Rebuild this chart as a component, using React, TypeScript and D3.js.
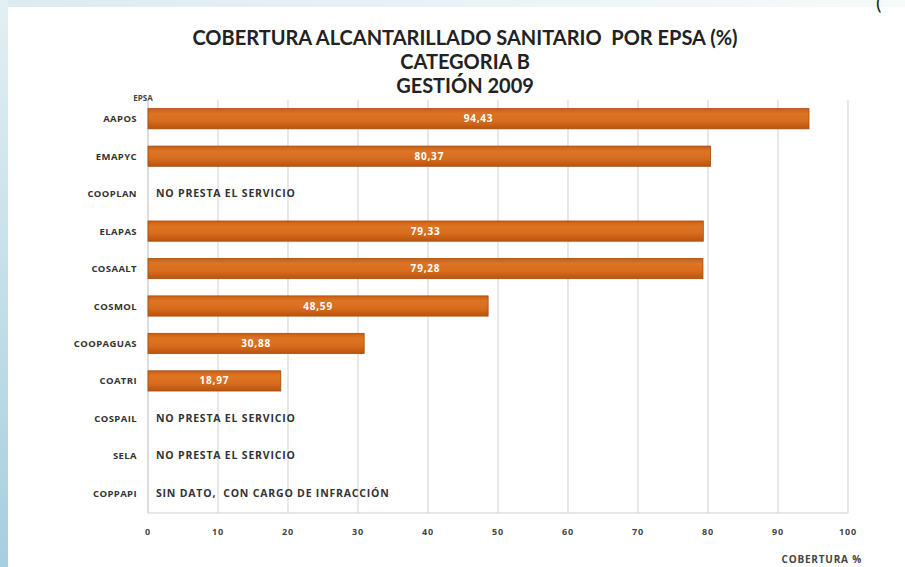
import React from "react";
import * as d3 from "d3";

const categories = ["AAPOS", "EMAPYC", "COOPLAN", "ELAPAS", "COSAALT", "COSMOL", "COOPAGUAS", "COATRI", "COSPAIL", "SELA", "COPPAPI"];
const values: (number | null)[] = [94.43, 80.37, null, 79.33, 79.28, 48.59, 30.88, 18.97, null, null, null];
const notes: (string | null)[] = [null, null, "NO PRESTA EL SERVICIO", null, null, null, null, null, "NO PRESTA EL SERVICIO", "NO PRESTA EL SERVICIO", "SIN DATO,  CON CARGO DE INFRACCIÓN"];
const xTicks = [0, 10, 20, 30, 40, 50, 60, 70, 80, 90, 100];
const titleLines = ["COBERTURA ALCANTARILLADO SANITARIO  POR EPSA (%)", "CATEGORIA B", "GESTIÓN 2009"];

const W = 905, H = 567;
const TFONT = "Lato, 'Open Sans', sans-serif";
const FONT = "'Open Sans', Lato, sans-serif";

export default function App() {
  const x = d3.scaleLinear().domain([0, 100]).range([148, 848]);
  const y = d3.scaleBand().domain(categories).range([100, 512]).paddingInner(0.46).paddingOuter(0.23);
  const fmt = (v: number) => v.toFixed(2).replace(".", ",");
  return (
    <svg width={W} height={H} style={{ position: "absolute", left: 0, top: 0, background: "#fff" }} xmlns="http://www.w3.org/2000/svg">
      <defs>
        <linearGradient id="side" x1="0" y1="0" x2="0" y2="1">
          <stop offset="0" stopColor="#e3eff4" />
          <stop offset="1" stopColor="#a6cfdf" />
        </linearGradient>
        <linearGradient id="top" x1="0" y1="0" x2="1" y2="0">
          <stop offset="0" stopColor="#dcebf1" />
          <stop offset="1" stopColor="#f7fafb" />
        </linearGradient>
        <linearGradient id="bar" x1="0" y1="0" x2="0" y2="1">
          <stop offset="0" stopColor="#c85e14" />
          <stop offset="0.25" stopColor="#dd7424" />
          <stop offset="0.6" stopColor="#d86d1e" />
          <stop offset="1" stopColor="#b9540e" />
        </linearGradient>
      </defs>
      <rect x={0} y={0} width={W} height={7} fill="url(#top)" />
      <rect x={0} y={0} width={8} height={H} fill="url(#side)" />
      <text x={876} y={10} fontSize={20} fontFamily={TFONT} fill="#222">(</text>

      {titleLines.map((t, i) => (
        <text key={t} x={465} y={45 + i * 24} textAnchor="middle" fontFamily={TFONT} fontWeight="bold" fontSize={20} fill="#222" style={{ whiteSpace: "pre" }}>{t}</text>
      ))}
      <text x={143} y={101} textAnchor="middle" fontFamily={FONT} fontWeight="bold" fontSize={8} fill="#444">EPSA</text>

      {xTicks.map((t) => (
        <line key={t} x1={x(t)} x2={x(t)} y1={100} y2={513} stroke={t === 0 ? "#c8c8c8" : "#d8d8d8"} strokeWidth={1.2} />
      ))}
      <line x1={x(0)} x2={x(100)} y1={513} y2={513} stroke="#d0d0d0" strokeWidth={1.2} />

      {xTicks.map((t) => (
        <text key={"l" + t} x={x(t)} y={535} textAnchor="middle" fontFamily={FONT} fontWeight="bold" fontSize={9} letterSpacing={0.8} fill="#444">{t}</text>
      ))}
      <text x={862} y={563} textAnchor="end" fontFamily={FONT} fontWeight="bold" fontSize={10} letterSpacing={0.8} fill="#444">COBERTURA %</text>

      {categories.map((c, i) => {
        const yy = y(c)!;
        const bw = y.bandwidth();
        const cy = yy + bw / 2;
        const v = values[i];
        return (
          <g key={c}>
            <text x={137} y={cy + 3.5} textAnchor="end" fontFamily={FONT} fontWeight="bold" fontSize={9.5} letterSpacing={0.4} fill="#333">{c}</text>
            {v != null && (
              <>
                <rect x={x(0)} y={yy} width={x(v) - x(0)} height={bw} fill="url(#bar)" stroke="#a94c0c" strokeWidth={0.8} />
                <text x={(x(0) + x(v)) / 2} y={cy + 3.5} textAnchor="middle" fontFamily={FONT} fontWeight="bold" fontSize={10} letterSpacing={0.8} fill="#fff">{fmt(v)}</text>
              </>
            )}
            {notes[i] && (
              <text x={156} y={cy + 3.5} fontFamily={FONT} fontWeight="bold" fontSize={10.5} letterSpacing={0.8} fill="#333" style={{ whiteSpace: "pre" }}>{notes[i]}</text>
            )}
          </g>
        );
      })}
    </svg>
  );
}
